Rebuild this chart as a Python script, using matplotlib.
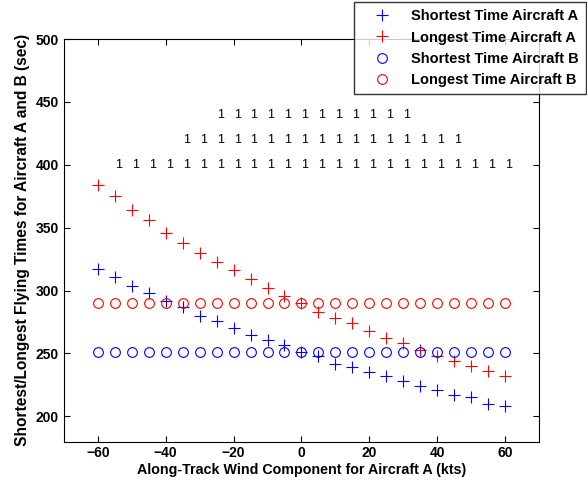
import numpy as np
import matplotlib
matplotlib.use("Agg")
import matplotlib.pyplot as plt

plt.rcParams['font.family'] = ['Liberation Sans', 'DejaVu Sans']
plt.rcParams['font.weight'] = 'bold'

# along-track wind (kts)
wind = [-60, -55, -50, -45, -40, -35, -30, -25, -20, -15, -10, -5, 0,
        5, 10, 15, 20, 25, 30, 35, 40, 45, 50, 55, 60]

short_a = [317, 311, 304, 298, 292, 287, 280, 276, 270, 265, 261, 257, 251,
           248, 242, 239, 235, 232, 228, 224, 221, 217, 215, 210, 208]
long_a = [384, 375, 364, 356, 346, 338, 330, 323, 316, 309, 302, 296, 290,
          283, 278, 274, 268, 262, 258, 253, 248, 244, 240, 236, 232]
short_b = [251] * 25
long_b = [290] * 25

# rows of "1" marks (wind values and heights)
row_low = [-55, -50, -45, -40, -35, -30, -25, -20, -15, -10, -5, 0,
           5, 10, 15, 20, 25, 30, 35, 40, 45, 50, 55, 60]
row_mid = [-35, -30, -25, -20, -15, -10, -5, 0, 5, 10, 15, 20, 25, 30, 35, 40, 45]
row_top = [-25, -20, -15, -10, -5, 0, 5, 10, 15, 20, 25, 30]
row_y = [400, 420, 440]

fig = plt.figure(figsize=(5.87, 4.82), dpi=100)
ax = fig.add_axes([0.109, 0.084, 0.809, 0.835])

ax.plot(wind, short_a, '+', color='blue', ms=8, mew=0.8, label='Shortest Time Aircraft A')
ax.plot(wind, long_a, '+', color='red', ms=8, mew=0.8, label='Longest Time Aircraft A')
ax.plot(wind, short_b, 'o', color='blue', mfc='none', ms=7, mew=0.8, label='Shortest Time Aircraft B')
ax.plot(wind, long_b, 'o', color='red', mfc='none', ms=7, mew=0.8, label='Longest Time Aircraft B')

for xs, yy in zip([row_low, row_mid, row_top], row_y):
    for xv in xs:
        ax.text(xv, yy, '1', ha='left', va='center', fontsize=9, fontweight='normal')

ax.set_xlim(-70, 70)
ax.set_ylim(180, 500)
ax.set_xticks([-60, -40, -20, 0, 20, 40, 60])
ax.set_yticks([200, 250, 300, 350, 400, 450, 500])
ax.tick_params(direction='in', top=True, right=True, labelsize=10, length=4)
for lab in ax.get_xticklabels() + ax.get_yticklabels():
    lab.set_fontweight('bold')
ax.set_xlabel('Along-Track Wind Component for Aircraft A (kts)', fontsize=10.3, fontweight='bold', labelpad=2)
ax.set_ylabel('Shortest/Longest Flying Times for Aircraft A and B (sec)', fontsize=11.2, fontweight='bold')

leg = fig.legend(loc='upper left', bbox_to_anchor=(354 / 587, 1 - 2 / 482),
                 fontsize=10.5, frameon=True, fancybox=False, edgecolor='black',
                 borderaxespad=0, handlelength=2.8, handletextpad=0.6,
                 labelspacing=0.5, borderpad=0.5)
leg.get_frame().set_linewidth(1.0)
for t in leg.get_texts():
    t.set_fontweight('bold')

fig.savefig('out.png', dpi=100)
